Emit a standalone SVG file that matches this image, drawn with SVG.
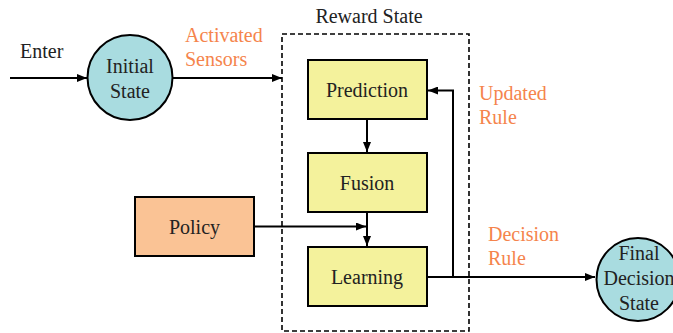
<svg xmlns="http://www.w3.org/2000/svg" width="673" height="333" viewBox="0 0 673 333">
<style>
text{font-family:"Liberation Serif","Times New Roman",serif;font-size:20px;fill:#222}
.lbl{fill:#F5844C}
.st{fill:#A9DCE0;stroke:#000;stroke-width:2}
.box{fill:#F4F29C;stroke:#000;stroke-width:2}
.pol{fill:#FAC395;stroke:#000;stroke-width:2}
.ln{fill:none;stroke:#000;stroke-width:2}
.m{text-anchor:middle}
</style>
<defs>
<marker id="ah" markerWidth="10" markerHeight="8" refX="10" refY="4" orient="auto" markerUnits="userSpaceOnUse">
<path d="M0,0L10,4L0,8z" fill="#000"/>
</marker>
</defs>
<rect x="282" y="34" width="187" height="297" fill="none" stroke="#000" stroke-width="1.6" stroke-dasharray="5,3"/>
<text x="369" y="23" class="m">Reward State</text>
<g id="connectors">
<path class="ln" d="M10,78H87" marker-end="url(#ah)"/>
<path class="ln" d="M173,78H282" marker-end="url(#ah)"/>
<path class="ln" d="M367,119V152" marker-end="url(#ah)"/>
<path class="ln" d="M367,212V246" marker-end="url(#ah)"/>
<path class="ln" d="M254,226.5H366" marker-end="url(#ah)"/>
<path class="ln" d="M427,277H453V90.5H428" marker-end="url(#ah)"/>
<path class="ln" d="M453,277H595" marker-end="url(#ah)"/>
</g>
<text x="20" y="58">Enter</text>
<text x="185" y="42" class="lbl">Activated</text>
<text x="185" y="66" class="lbl">Sensors</text>
<text x="479" y="100" class="lbl">Updated</text>
<text x="479" y="124" class="lbl">Rule</text>
<text x="488" y="241" class="lbl">Decision</text>
<text x="488" y="265" class="lbl">Rule</text>
<g id="initial">
<circle class="st" cx="130" cy="77.5" r="42.5"/>
<text x="130" y="73" class="m">Initial</text>
<text x="130" y="98" class="m">State</text>
</g>
<g id="prediction">
<rect class="box" x="308" y="60" width="119" height="59"/>
<text x="367" y="97" class="m">Prediction</text>
</g>
<g id="fusion">
<rect class="box" x="308" y="153" width="119" height="59"/>
<text x="367" y="190" class="m">Fusion</text>
</g>
<g id="learning">
<rect class="box" x="308" y="247" width="119" height="59"/>
<text x="367" y="284" class="m">Learning</text>
</g>
<g id="policy">
<rect class="pol" x="135" y="197" width="119" height="59"/>
<text x="194.5" y="234" class="m">Policy</text>
</g>
<g id="final">
<circle class="st" cx="638" cy="279.5" r="41.5"/>
<text x="639" y="260" class="m">Final</text>
<text x="639" y="285" class="m">Decision</text>
<text x="639" y="310" class="m">State</text>
</g>
</svg>
